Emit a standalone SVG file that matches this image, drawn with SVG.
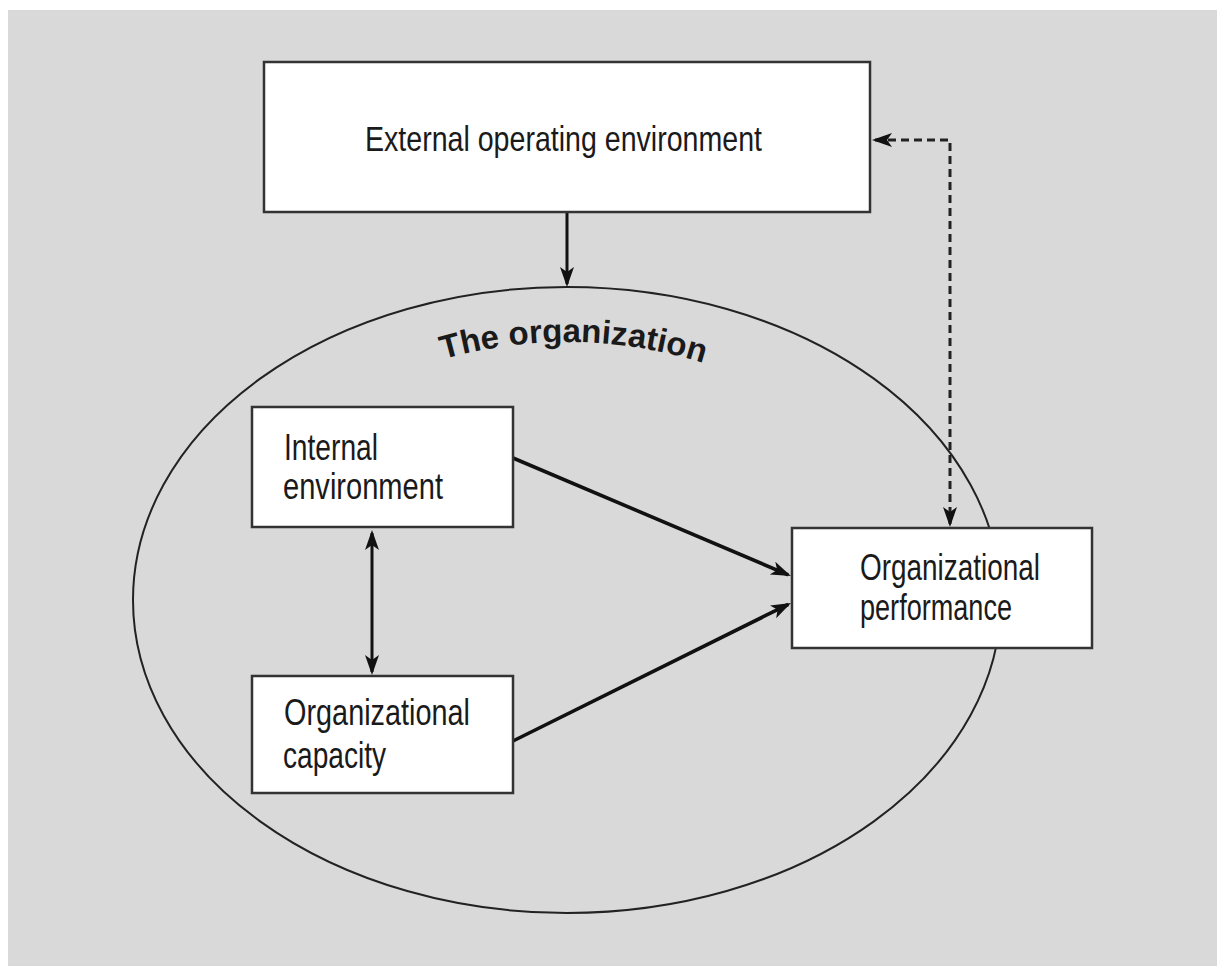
<svg xmlns="http://www.w3.org/2000/svg" width="1224" height="967" viewBox="0 0 1224 967">
  <style>
    .box { fill: #ffffff; stroke: #333333; stroke-width: 2.5; }
    .lbl { font-family: "Liberation Sans", Arial, sans-serif; fill: #1a1a1a; }
    .con { fill: none; stroke: #111111; stroke-width: 3; }
    .thick { stroke-width: 3.6; }
    .dash { fill: none; stroke: #222222; stroke-width: 3; stroke-dasharray: 8 5; }
  </style>
  <defs>
    <marker id="ah" markerUnits="userSpaceOnUse" markerWidth="22" markerHeight="16" refX="17" refY="7" orient="auto-start-reverse" viewBox="0 0 22 16">
      <path d="M0,0 L20,7 L0,14 L5,7 Z" fill="#111111"/>
    </marker>
    <path id="arcText" d="M 187 660 A 380 318 0 0 1 947 660"/>
  </defs>

  <rect x="0" y="0" width="1224" height="967" fill="#ffffff"/>
  <rect x="8" y="10" width="1209" height="956" fill="#d9d9d9"/>

  <g id="organization">
    <ellipse cx="567" cy="600" rx="434" ry="313" fill="none" stroke="#222222" stroke-width="2"/>
    <text class="lbl" font-weight="bold" font-size="33">
      <textPath href="#arcText" startOffset="50.6%" text-anchor="middle">The organization</textPath>
    </text>
  </g>

  <g id="connectors">
    <line class="con" x1="567" y1="213" x2="567" y2="284" marker-end="url(#ah)"/>
    <line class="con thick" x1="513" y1="458" x2="788.2" y2="574.8" marker-end="url(#ah)"/>
    <line class="con thick" x1="513" y1="741" x2="788.3" y2="604.3" marker-end="url(#ah)"/>
    <line class="con" x1="372" y1="533" x2="372" y2="672" marker-start="url(#ah)" marker-end="url(#ah)"/>
    <path class="dash" d="M 875 140 L 950 140 L 950 524" marker-start="url(#ah)" marker-end="url(#ah)"/>
  </g>

  <g id="external">
    <rect class="box" x="264" y="62" width="606" height="150"/>
    <text class="lbl" x="365" y="151" font-size="35" textLength="397" lengthAdjust="spacingAndGlyphs">External operating environment</text>
  </g>

  <g id="internal">
    <rect class="box" x="252" y="407" width="261" height="120"/>
    <text class="lbl" x="284" y="460" font-size="36" textLength="94" lengthAdjust="spacingAndGlyphs">Internal</text>
    <text class="lbl" x="283" y="499" font-size="36" textLength="160" lengthAdjust="spacingAndGlyphs">environment</text>
  </g>

  <g id="capacity">
    <rect class="box" x="252" y="676" width="261" height="117"/>
    <text class="lbl" x="284" y="725" font-size="36" textLength="186" lengthAdjust="spacingAndGlyphs">Organizational</text>
    <text class="lbl" x="283" y="768" font-size="36" textLength="103" lengthAdjust="spacingAndGlyphs">capacity</text>
  </g>

  <g id="performance">
    <rect class="box" x="792" y="528" width="300" height="120"/>
    <text class="lbl" x="860" y="580" font-size="36" textLength="180" lengthAdjust="spacingAndGlyphs">Organizational</text>
    <text class="lbl" x="860" y="620" font-size="36" textLength="152" lengthAdjust="spacingAndGlyphs">performance</text>
  </g>
</svg>
